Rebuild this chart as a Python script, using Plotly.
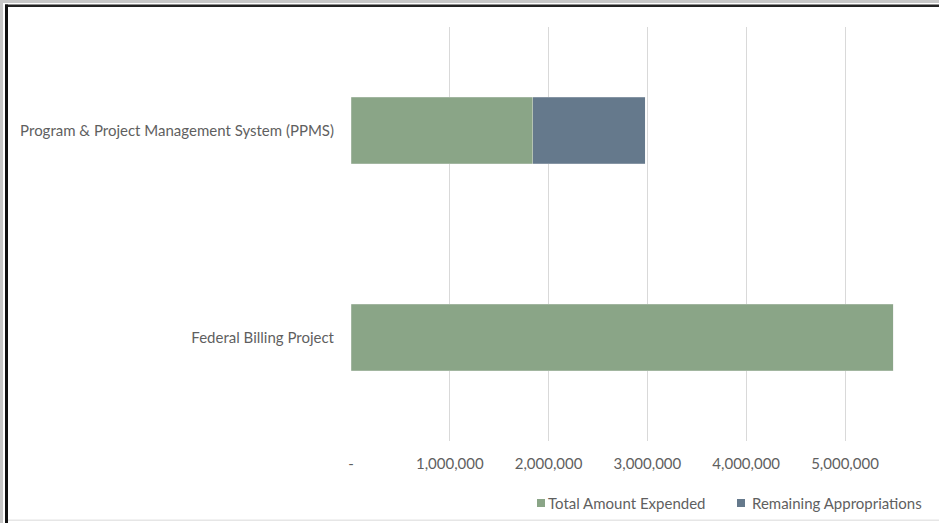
import plotly.graph_objects as go

categories = ["Federal Billing Project", "Program & Project Management System (PPMS)"]
total_expended = [5490000, 1840000]
remaining_appropriations = [0, 1140000]
tick_values = [0, 1000000, 2000000, 3000000, 4000000, 5000000]
tick_labels = ["-", "1,000,000", "2,000,000", "3,000,000", "4,000,000", "5,000,000"]
series_names = ["Total Amount Expended", "Remaining Appropriations"]
series_colors = ["#8AA587", "#65798C"]

W, H = 939, 523
L, R, T, B = 351, 10, 27, 82
pw, ph = W - L - R, H - T - B

def px_x(p):
    return (p - L) / pw

def px_y(p):
    return (H - B - p) / ph

fig = go.Figure()
for name, vals, col in zip(series_names, [total_expended, remaining_appropriations], series_colors):
    fig.add_trace(go.Bar(
        y=categories, x=vals, orientation="h", name=name,
        marker=dict(color=col, line=dict(color="rgba(235,235,235,0.5)", width=0.5)),
    ))

font = "Lato, Open Sans, sans-serif"
FS = 15
TXT = "#5f5f5f"
fig.update_layout(
    width=W, height=H, barmode="stack", bargap=0.68,
    margin=dict(l=L, r=R, t=T, b=B, pad=0),
    paper_bgcolor="white", plot_bgcolor="white",
    font=dict(family=font, size=FS, color=TXT),
    showlegend=False,
    xaxis=dict(range=[0, 5.85e6], tickvals=tick_values, ticktext=tick_labels,
               showgrid=True, gridcolor="#D9D9D9", gridwidth=1, zeroline=False,
               showline=False, ticks="", ticklabelstandoff=12,
               tickfont=dict(size=FS, color=TXT)),
    yaxis=dict(showgrid=False, zeroline=False, showline=False, ticks="",
               ticklabelstandoff=16, tickfont=dict(size=FS, color=TXT),
               range=[-0.5, 1.5]),
)

# custom legend (small squares right next to text, like the reference)
legend_items = [(537, 546), (737, 750)]
annotations = []
shapes = []
for (sq_x, tx_x), name, col in zip(legend_items, series_names, series_colors):
    shapes.append(dict(type="rect", xref="paper", yref="paper",
                       x0=px_x(sq_x), x1=px_x(sq_x + 8), y0=px_y(499), y1=px_y(507),
                       fillcolor=col, line=dict(width=0)))
    annotations.append(dict(xref="paper", yref="paper", x=px_x(tx_x), y=px_y(503),
                            xanchor="left", yanchor="middle", showarrow=False, text=name,
                            font=dict(family=font, size=FS, color=TXT)))

# frame border as in the screenshot
shapes += [
    dict(type="rect", xref="paper", yref="paper", x0=px_x(0), x1=px_x(W), y0=px_y(0), y1=px_y(3),
         fillcolor="#C8C8C8", line=dict(width=0), layer="above"),
    dict(type="rect", xref="paper", yref="paper", x0=px_x(0), x1=px_x(3), y0=px_y(0), y1=px_y(H),
         fillcolor="#C8C8C8", line=dict(width=0), layer="above"),
    dict(type="rect", xref="paper", yref="paper", x0=px_x(5), x1=px_x(W), y0=px_y(4.5), y1=px_y(7),
         fillcolor="#222222", line=dict(width=0), layer="above"),
    dict(type="rect", xref="paper", yref="paper", x0=px_x(5), x1=px_x(8), y0=px_y(4.5), y1=px_y(H),
         fillcolor="#111111", line=dict(width=0), layer="above"),
    dict(type="rect", xref="paper", yref="paper", x0=px_x(8), x1=px_x(W), y0=px_y(519.5), y1=px_y(521),
         fillcolor="#E6E6E6", line=dict(width=0), layer="above"),
]
fig.update_layout(shapes=shapes, annotations=annotations)

fig.write_html("out.html")
